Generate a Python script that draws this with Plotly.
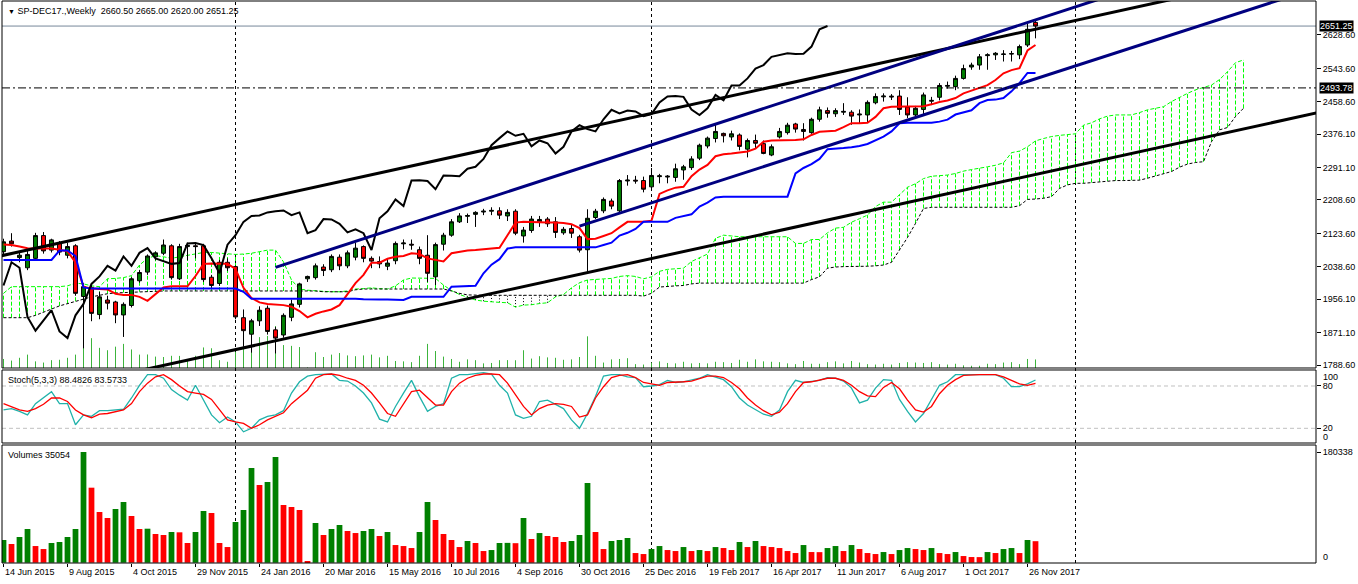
import plotly.graph_objects as go

# SP-DEC17 weekly bars, 14 Jun 2015 .. 3 Dec 2017
open_ = [2077, 2104, 2062, 2036, 2060, 2118, 2081, 2098, 2068, 2092,
         1963, 1986, 1917, 1954, 1949, 1916, 1940, 2003, 2025, 2064,
         2073, 2092, 2008, 2090, 2092, 2092, 2012, 1996, 2050, 2039,
         1909, 1867, 1901, 1933, 1878, 1865, 1910, 1943, 2008, 2011,
         2038, 2031, 2063, 2041, 2063, 2090, 2060, 2052, 2040, 2054,
         2097, 2096, 2082, 2068, 2013, 2096, 2119, 2153, 2167, 2172,
         2178, 2180, 2181, 2168, 2180, 2117, 2131, 2153, 2160, 2153,
         2125, 2136, 2115, 2082, 2164, 2181, 2206, 2181, 2257, 2259,
         2258, 2242, 2268, 2267, 2266, 2285, 2291, 2315, 2346, 2365,
         2378, 2369, 2374, 2338, 2360, 2352, 2323, 2369, 2380, 2402,
         2388, 2380, 2414, 2436, 2428, 2432, 2432, 2425, 2425, 2456,
         2471, 2473, 2473, 2445, 2425, 2439, 2460, 2470, 2498, 2497,
         2518, 2547, 2552, 2576, 2578, 2579, 2580, 2578, 2603, 2660.50]
high_ = [2110, 2124, 2076, 2080, 2125, 2127, 2110, 2104, 2100, 2096,
         1997, 1995, 1975, 1965, 1952, 1948, 2012, 2030, 2070, 2078,
         2108, 2096, 2097, 2100, 2098, 2097, 2018, 2056, 2060, 2042,
         1930, 1906, 1938, 1940, 1885, 1920, 1955, 1998, 2016, 2047,
         2045, 2070, 2070, 2080, 2100, 2093, 2065, 2065, 2060, 2103,
         2108, 2108, 2090, 2119, 2100, 2125, 2160, 2175, 2174, 2180,
         2186, 2190, 2190, 2185, 2185, 2140, 2168, 2168, 2165, 2165,
         2140, 2145, 2120, 2185, 2186, 2215, 2212, 2262, 2272, 2270,
         2268, 2290, 2275, 2272, 2301, 2298, 2320, 2352, 2370, 2400,
         2380, 2385, 2378, 2365, 2375, 2360, 2350, 2392, 2405, 2405,
         2404, 2418, 2446, 2444, 2442, 2455, 2437, 2439, 2462, 2480,
         2480, 2478, 2488, 2470, 2448, 2482, 2471, 2506, 2510, 2525,
         2553, 2558, 2580, 2582, 2585, 2590, 2588, 2604, 2660, 2665.00]
low_ = [2068, 2090, 2050, 2030, 2055, 2072, 2075, 2068, 2060, 1965,
        1831, 1900, 1905, 1930, 1895, 1860, 1935, 1998, 2018, 2055,
        2068, 2006, 2005, 2055, 2060, 2000, 1985, 1990, 2028, 1905,
        1835, 1820, 1888, 1866, 1818, 1858, 1900, 1935, 2000, 2006,
        2015, 2025, 2030, 2035, 2055, 2050, 2035, 2035, 2030, 2045,
        2083, 2082, 2045, 2000, 1992, 2080, 2115, 2150, 2150, 2140,
        2170, 2170, 2160, 2155, 2119, 2100, 2125, 2140, 2140, 2112,
        2120, 2112, 2075, 2026, 2160, 2175, 2185, 2178, 2245, 2250,
        2228, 2232, 2251, 2251, 2255, 2260, 2285, 2310, 2340, 2355,
        2355, 2360, 2335, 2317, 2340, 2325, 2320, 2365, 2375, 2380,
        2360, 2377, 2408, 2418, 2420, 2425, 2400, 2404, 2405, 2452,
        2459, 2463, 2425, 2417, 2416, 2425, 2450, 2462, 2492, 2488,
        2515, 2540, 2540, 2540, 2565, 2561, 2561, 2567, 2598, 2620.00]
close_ = [2102, 2097, 2068, 2070, 2118, 2079, 2107, 2076, 2090, 1971,
          1988, 1920, 1962, 1946, 1916, 1943, 2008, 2024, 2066, 2074,
          2094, 2011, 2090, 2093, 2090, 2006, 1991, 2050, 2036, 1911,
          1876, 1901, 1928, 1874, 1857, 1915, 1944, 1995, 2014, 2041,
          2029, 2065, 2041, 2074, 2086, 2060, 2053, 2046, 2048, 2098,
          2099, 2094, 2060, 2022, 2095, 2119, 2153, 2168, 2169, 2177,
          2180, 2182, 2170, 2177, 2124, 2132, 2160, 2159, 2148, 2126,
          2134, 2124, 2081, 2162, 2180, 2210, 2193, 2258, 2259, 2257,
          2236, 2271, 2270, 2269, 2288, 2293, 2313, 2348, 2366, 2383,
          2372, 2377, 2345, 2360, 2353, 2327, 2344, 2383, 2399, 2389,
          2383, 2414, 2438, 2429, 2436, 2434, 2422, 2427, 2457, 2472,
          2473, 2471, 2439, 2425, 2442, 2476, 2462, 2500, 2500, 2518,
          2543, 2552, 2573, 2578, 2582, 2580, 2581, 2599, 2643, 2651.25]
volume = [36940, 30420, 41830, 54860, 27160, 22270, 32050, 33680, 41830, 54860,
          180338, 122220, 82570, 72790, 87460, 98860, 76050, 54860, 55400, 46720,
          45090, 49970, 49500, 32050, 49970, 84200, 80940, 32050, 25530, 66270,
          85830, 154270, 126570, 131450, 172190, 93970, 90710, 85830, 2170, 64640,
          45090, 54860, 61380, 51600, 48340, 51600, 54860, 43460, 49970, 28790,
          27160, 23900, 49970, 98860, 69530, 46720, 36940, 25530, 35310, 32050,
          19010, 20640, 32050, 32300, 31800, 72790, 38570, 48340, 43460, 41830,
          33680, 35310, 45090, 129830, 49970, 22270, 35310, 36940, 40200, 15750,
          14120, 22270, 27160, 20640, 19010, 25530, 19010, 20640, 19010, 25530,
          23900, 20640, 33680, 25530, 35310, 27160, 25530, 23900, 19010, 15750,
          28790, 17380, 17200, 23900, 27160, 19010, 28790, 22270, 15750, 14120,
          17380, 14120, 20640, 23900, 22270, 20640, 23900, 15750, 14120, 17380,
          10860, 9230, 9100, 17380, 15750, 22270, 23900, 15750, 36940, 35054]

# Stochastic(5,3,3)
stoch_k = [46, 48, 44, 39, 55, 64, 72, 55, 55, 25,
           39, 37, 45, 45, 46, 47, 63, 81, 96, 96,
           91, 75, 67, 60, 81, 60, 39, 28, 36, 29,
           15, 20, 32, 37, 39, 45, 70, 86, 94, 96,
           97, 97, 88, 87, 80, 70, 56, 33, 29, 51,
           70, 88, 65, 44, 51, 55, 91, 96, 96, 98,
           99, 97, 81, 70, 39, 34, 37, 58, 60, 54,
           48, 32, 20, 41, 65, 94, 96, 96, 93, 92,
           79, 80, 82, 88, 85, 86, 89, 91, 96, 93,
           89, 79, 63, 53, 46, 40, 37, 46, 72, 88,
           85, 87, 88, 92, 91, 87, 77, 56, 60, 77,
           89, 88, 61, 44, 29, 41, 62, 81, 86, 96,
           96, 96, 97, 97, 96, 91, 79, 79, 83, 88.4826]
stoch_d = [55, 50, 46, 44, 48, 54, 63, 63, 58, 46,
           39, 35, 40, 41, 44, 46, 55, 72, 84, 93,
           96, 89, 80, 72, 70, 68, 61, 46, 32, 29,
           27, 20, 25, 32, 37, 42, 55, 65, 74, 91,
           96, 97, 95, 91, 88, 81, 70, 56, 41, 37,
           55, 72, 74, 63, 53, 53, 72, 84, 91, 95,
           97, 97, 96, 84, 67, 51, 39, 48, 53, 55,
           54, 51, 36, 39, 63, 79, 92, 95, 96, 92,
           85, 83, 81, 85, 85, 86, 87, 91, 94, 94,
           92, 85, 76, 63, 53, 45, 39, 43, 55, 72,
           85, 86, 88, 91, 91, 88, 81, 72, 66, 65,
           78, 85, 76, 60, 46, 43, 51, 69, 81, 89,
           95, 96, 96, 96, 96, 93, 88, 83, 81, 83.5733]

# Ichimoku
tenkan = [2095, 2094, 2090, 2086, 2085, 2085, 2085, 2082, 2078, 2050,
          1988, 1983, 1982, 1981, 1970, 1967, 1967, 1962, 1952, 1970,
          1986, 1989, 1989, 1989, 2015, 2046, 2047, 2047, 2046, 2033,
          1985, 1959, 1948, 1944, 1943, 1941, 1937, 1926, 1910, 1919,
          1925, 1930, 1941, 1968, 1997, 2018, 2049, 2049, 2059, 2064,
          2066, 2073, 2071, 2060, 2056, 2052, 2073, 2077, 2080, 2081,
          2083, 2085, 2087, 2119, 2151, 2153, 2152, 2152, 2151, 2151,
          2150, 2147, 2137, 2109, 2110, 2117, 2124, 2139, 2153, 2153,
          2153, 2156, 2224, 2233, 2240, 2242, 2269, 2286, 2298, 2320,
          2325, 2327, 2329, 2332, 2339, 2357, 2360, 2360, 2361, 2361,
          2363, 2374, 2382, 2383, 2385, 2394, 2404, 2404, 2405, 2420,
          2442, 2446, 2446, 2446, 2446, 2447, 2452, 2458, 2462, 2468,
          2480, 2488, 2494, 2501, 2514, 2531, 2539, 2544, 2589, 2603]
kijun = [2056, 2056, 2056, 2056, 2056, 2056, 2056, 2080, 2080, 2066,
         1986, 1983, 1983, 1983, 1983, 1983, 1983, 1983, 1983, 1983,
         1983, 1983, 1983, 1983, 1983, 1983, 1983, 1983, 1983, 1983,
         1975, 1957, 1957, 1957, 1957, 1957, 1957, 1957, 1957, 1957,
         1958, 1958, 1957, 1957, 1957, 1956, 1955, 1955, 1955, 1954,
         1954, 1962, 1962, 1962, 1962, 1962, 1988, 1989, 1990, 1990,
         2022, 2044, 2058, 2085, 2088, 2088, 2088, 2088, 2088, 2088,
         2088, 2088, 2088, 2088, 2088, 2094, 2100, 2118, 2125, 2135,
         2153, 2153, 2153, 2153, 2163, 2168, 2172, 2192, 2202, 2215,
         2217, 2217, 2217, 2217, 2217, 2217, 2217, 2217, 2217, 2276,
         2290, 2300, 2313, 2338, 2339, 2341, 2343, 2346, 2351, 2361,
         2370, 2383, 2404, 2405, 2405, 2405, 2405, 2408, 2413, 2426,
         2432, 2437, 2455, 2463, 2464, 2468, 2485, 2506, 2532, 2532]
# senkou spans run 26 bars past the last bar
senkou_a = [1971, 1988, 1988, 1988, 1988, 1988, 1988, 1988, 1990, 1997,
            1995, 1990, 1988, 2008, 2009, 2011, 2016, 2043, 2060, 2067,
            2064, 2060, 2064, 2068, 2072, 2075, 2075, 2073, 2071, 2070,
            2071, 2073, 2077, 2081, 2081, 2051, 2005, 1982, 1979, 1977,
            1976, 1975, 1975, 1977, 1982, 1983, 1985, 1983, 1982, 1990,
            2005, 2010, 2010, 2010, 2009, 1992, 1978, 1968, 1962, 1954,
            1951, 1949, 1948, 1947, 1936, 1941, 1942, 1945, 1947, 1962,
            1968, 1985, 1998, 2005, 2006, 2007, 2009, 2014, 2016, 2014,
            2008, 2013, 2027, 2032, 2034, 2035, 2052, 2062, 2071, 2111,
            2119, 2117, 2115, 2115, 2115, 2115, 2115, 2115, 2115, 2098,
            2098, 2108, 2108, 2125, 2137, 2139, 2152, 2161, 2170, 2192,
            2203, 2203, 2222, 2241, 2250, 2263, 2269, 2271, 2272, 2276,
            2282, 2286, 2289, 2293, 2297, 2303, 2329, 2333, 2344, 2359,
            2365, 2370, 2373, 2375, 2377, 2399, 2405, 2415, 2422, 2425,
            2425, 2425, 2431, 2438, 2442, 2446, 2459, 2470, 2480, 2489,
            2495, 2501, 2515, 2535, 2558, 2565]
senkou_b = [1909, 1909, 1909, 1909, 1915, 1924, 1931, 1939, 1945, 1951,
            1958, 1962, 1966, 1970, 1972, 1973, 1974, 1975, 1975, 1976,
            1977, 1977, 1977, 1977, 1977, 1977, 1977, 1977, 1977, 1977,
            1977, 1977, 1977, 1977, 1977, 1977, 1977, 1977, 1977, 1977,
            1975, 1975, 1975, 1975, 1980, 1982, 1982, 1982, 1982, 1982,
            1982, 1982, 1982, 1982, 1982, 1982, 1977, 1971, 1967, 1966,
            1966, 1966, 1966, 1966, 1966, 1966, 1966, 1966, 1966, 1966,
            1966, 1966, 1966, 1966, 1966, 1966, 1966, 1966, 1966, 1966,
            1964, 1971, 1987, 1989, 1990, 1991, 1995, 1997, 1997, 1997,
            1997, 1997, 1997, 1997, 1997, 1997, 1997, 1997, 1997, 1997,
            1997, 2006, 2013, 2035, 2038, 2039, 2039, 2039, 2040, 2041,
            2043, 2050, 2081, 2113, 2149, 2187, 2190, 2190, 2190, 2190,
            2190, 2190, 2190, 2190, 2190, 2190, 2190, 2194, 2210, 2211,
            2213, 2217, 2238, 2247, 2251, 2251, 2253, 2255, 2257, 2258,
            2258, 2259, 2259, 2264, 2270, 2275, 2281, 2292, 2300, 2304,
            2306, 2357, 2387, 2393, 2421, 2442]
chikou_shift = 26

# hand-drawn objects: (bar, price) anchors
trend_lines = [
    ((-0.4, 2066), (146, 2719), 'black'),
    ((10, 1743), (165, 2434), 'black'),
    ((34, 2037), (137, 2720), '#000080'),
    ((72, 2142), (160, 2721), '#000080'),
]
hline_level = 2493.78
year_bars = [29, 81, 134]

date_bars = [0, 8, 16, 24, 32, 40, 48, 56, 64, 72, 80, 88, 96, 104, 112, 120, 128]
date_labels = ['14 Jun 2015', '9 Aug 2015', '4 Oct 2015', '29 Nov 2015', '24 Jan 2016',
               '20 Mar 2016', '15 May 2016', '10 Jul 2016', '4 Sep 2016', '30 Oct 2016',
               '25 Dec 2016', '19 Feb 2017', '16 Apr 2017', '11 Jun 2017', '6 Aug 2017',
               '1 Oct 2017', '26 Nov 2017']
price_ticks = [1788.6, 1871.1, 1956.1, 2038.6, 2123.6, 2208.6, 2291.1, 2376.1, 2458.6, 2543.6, 2628.6]

FONT = 'Liberation Sans'
bars = list(range(len(close_)))
cloud_bars = list(range(len(senkou_a)))

fig = go.Figure()

# tick volumes along the bottom of the price window
vx, vy = [], []
for i, v in zip(bars, volume):
    vx += [i, i, None]
    vy += [0, v, None]
fig.add_trace(go.Scatter(x=vx, y=vy, mode='lines', line=dict(color='#3cb43c', width=1),
                         xaxis='x', yaxis='y', hoverinfo='skip'))

# kumo hatching
ux, uy, dx, dy = [], [], [], []
for j, (a, b) in enumerate(zip(senkou_a, senkou_b)):
    if a >= b:
        ux += [j, j, None]
        uy += [b, a, None]
    else:
        dx += [j, j, None]
        dy += [a, b, None]
fig.add_trace(go.Scatter(x=ux, y=uy, mode='lines', yaxis='y4',
                         line=dict(color='#00ff00', width=1, dash='4px,2px')))
fig.add_trace(go.Scatter(x=dx, y=dy, mode='lines', yaxis='y4',
                         line=dict(color='black', width=1, dash='1px,2px')))
fig.add_trace(go.Scatter(x=cloud_bars, y=senkou_a, mode='lines', yaxis='y4',
                         line=dict(color='#00ff00', width=1, dash='4px,2px')))
fig.add_trace(go.Scatter(x=cloud_bars, y=senkou_b, mode='lines', yaxis='y4',
                         line=dict(color='black', width=1, dash='3px,2px')))

# candles
fig.add_trace(go.Candlestick(
    x=bars, open=open_, high=high_, low=low_, close=close_, yaxis='y5',
    increasing=dict(fillcolor='#008000', line=dict(color='black', width=1)),
    decreasing=dict(fillcolor='#ff0000', line=dict(color='black', width=1)),
    whiskerwidth=0))

# tenkan / kijun / chikou
fig.add_trace(go.Scatter(x=bars, y=tenkan, mode='lines', yaxis='y5',
                         line=dict(color='#ff0000', width=2)))
fig.add_trace(go.Scatter(x=bars, y=kijun, mode='lines', yaxis='y5',
                         line=dict(color='#0000ff', width=2)))
fig.add_trace(go.Scatter(x=[i - chikou_shift for i in bars[chikou_shift:]],
                         y=close_[chikou_shift:], mode='lines', yaxis='y5',
                         line=dict(color='black', width=2)))

for p0, p1, col in trend_lines:
    fig.add_trace(go.Scatter(x=[p0[0], p1[0]], y=[p0[1], p1[1]], mode='lines', yaxis='y5',
                             line=dict(color=col, width=3)))

# stochastic window
fig.add_trace(go.Scatter(x=bars, y=stoch_k, mode='lines', xaxis='x2', yaxis='y2',
                         line=dict(color='#20b2aa', width=1.3)))
fig.add_trace(go.Scatter(x=bars, y=stoch_d, mode='lines', xaxis='x2', yaxis='y2',
                         line=dict(color='#ff0000', width=1.3)))

# volumes window: green when volume rose
vol_colors = ['#008000' if i == 0 or volume[i] > volume[i - 1] else '#ff0000' for i in bars]
fig.add_trace(go.Bar(x=bars, y=volume, xaxis='x3', yaxis='y3', marker=dict(color=vol_colors, line_width=0),
                     width=0.72))

main_dom = [0.34698, 1.0]
stoch_dom = [0.21352, 0.34342]
vol_dom = [0.0, 0.20996]
price_range = [1780.97, 2715.0]
xr = [-0.1875, 164.0625]

ax_common = dict(showgrid=False, zeroline=False, showline=False)
tick_font = dict(family=FONT, size=9, color='black')

fig.update_layout(
    width=1358, height=584,
    margin=dict(l=2, r=42, t=1, b=21),
    paper_bgcolor='white', plot_bgcolor='white',
    showlegend=False, hovermode=False,
    boxgap=0.3, bargap=0.3,
    font=dict(family=FONT, size=9, color='black'),
    xaxis=dict(domain=[0, 1], anchor='y', range=xr, showticklabels=False, ticks='',
               rangeslider=dict(visible=False), **ax_common),
    xaxis2=dict(domain=[0, 1], anchor='y2', matches='x', showticklabels=False, ticks='', **ax_common),
    xaxis3=dict(domain=[0, 1], anchor='y3', matches='x', showticklabels=False,
                ticks='outside', ticklen=3, tickcolor='black', tickvals=date_bars, **ax_common),
    yaxis=dict(domain=main_dom, range=[0, 180338 * 367 / 44], showticklabels=False, ticks='',
               **ax_common),
    yaxis4=dict(overlaying='y', range=price_range, showticklabels=False, ticks='', **ax_common),
    yaxis5=dict(overlaying='y', range=price_range, side='right', anchor='x',
                tickvals=price_ticks, ticktext=[f'{v:.2f}' for v in price_ticks],
                ticks='outside', ticklen=4, tickcolor='black', tickfont=tick_font, **ax_common),
    yaxis2=dict(domain=stoch_dom, anchor='x2', range=[-0.85, 102.7], side='right',
                tickvals=[80, 20], ticktext=['80', '20'], ticks='outside', ticklen=4,
                tickcolor='black', tickfont=tick_font, **ax_common),
    yaxis3=dict(domain=vol_dom, anchor='x3', range=[-489, 191745], side='right',
                tickvals=[180338], ticktext=['180338'], ticks='outside', ticklen=4,
                tickcolor='black', tickfont=tick_font, **ax_common),
)

shapes = []
for dom in (main_dom, stoch_dom, vol_dom):
    shapes.append(dict(type='rect', xref='paper', yref='paper', x0=0, x1=1, y0=dom[0], y1=dom[1],
                       line=dict(color='black', width=1), layer='above'))
for yb in year_bars:
    shapes.append(dict(type='line', xref='x', yref='paper', x0=yb, x1=yb, y0=0, y1=1,
                       line=dict(color='black', width=1, dash='3px,3px'), layer='below'))
for lvl in (80, 20):
    shapes.append(dict(type='line', xref='paper', yref='y2', x0=0, x1=1, y0=lvl, y1=lvl,
                       line=dict(color='#c0c0c0', width=1, dash='4px,3px'), layer='below'))
shapes.append(dict(type='line', xref='paper', yref='y5', x0=0, x1=1, y0=close_[-1], y1=close_[-1],
                   line=dict(color='#778899', width=1), layer='below'))
shapes.append(dict(type='line', xref='paper', yref='y5', x0=0, x1=1, y0=hline_level, y1=hline_level,
                   line=dict(color='black', width=1, dash='8px,3px,2px,3px'), layer='above'))
fig.update_layout(shapes=shapes)

ann = []
ann.append(dict(xref='paper', yref='paper', x=0, y=1, xanchor='left', yanchor='top',
                xshift=4, yshift=-3, showarrow=False,
                text=f"<span style='font-size:7px'>▼</span> SP-DEC17.,Weekly  {open_[-1]:.2f} "
                     f"{high_[-1]:.2f} {low_[-1]:.2f} {close_[-1]:.2f}"))
ann.append(dict(xref='paper', yref='paper', x=0, y=stoch_dom[1], xanchor='left', yanchor='top',
                xshift=4, yshift=-3, showarrow=False,
                text=f'Stoch(5,3,3) {stoch_k[-1]:.4f} {stoch_d[-1]:.4f}'))
ann.append(dict(xref='paper', yref='paper', x=0, y=vol_dom[1], xanchor='left', yanchor='top',
                xshift=4, yshift=-3, showarrow=False, text=f'Volumes {volume[-1]}'))
for lvl in (close_[-1], hline_level):
    ann.append(dict(xref='paper', yref='y5', x=1, y=lvl, xanchor='left', yanchor='middle',
                    xshift=3, showarrow=False, bgcolor='black', borderpad=0,
                    font=dict(family=FONT, size=9, color='white'), text=f'{lvl:.2f}'))
ann.append(dict(xref='paper', yref='y2', x=1, y=100, xanchor='left', yanchor='middle',
                xshift=5, yshift=-5, showarrow=False, text='100', font=tick_font))
ann.append(dict(xref='paper', yref='y2', x=1, y=0, xanchor='left', yanchor='middle',
                xshift=5, yshift=5, showarrow=False, text='0', font=tick_font))
ann.append(dict(xref='paper', yref='y3', x=1, y=0, xanchor='left', yanchor='middle',
                xshift=5, yshift=6, showarrow=False, text='0', font=tick_font))
for b, lab in zip(date_bars, date_labels):
    ann.append(dict(xref='x3', yref='paper', x=b, y=0, xanchor='left', yanchor='top',
                    xshift=-1, yshift=-2, showarrow=False, text=lab, font=tick_font))
fig.update_layout(annotations=ann)

# drop the default page margin so the chart sits at the window's top-left corner
fig.write_html("out.html", config={'displayModeBar': False},
               post_script="document.body.style.margin='0';")
